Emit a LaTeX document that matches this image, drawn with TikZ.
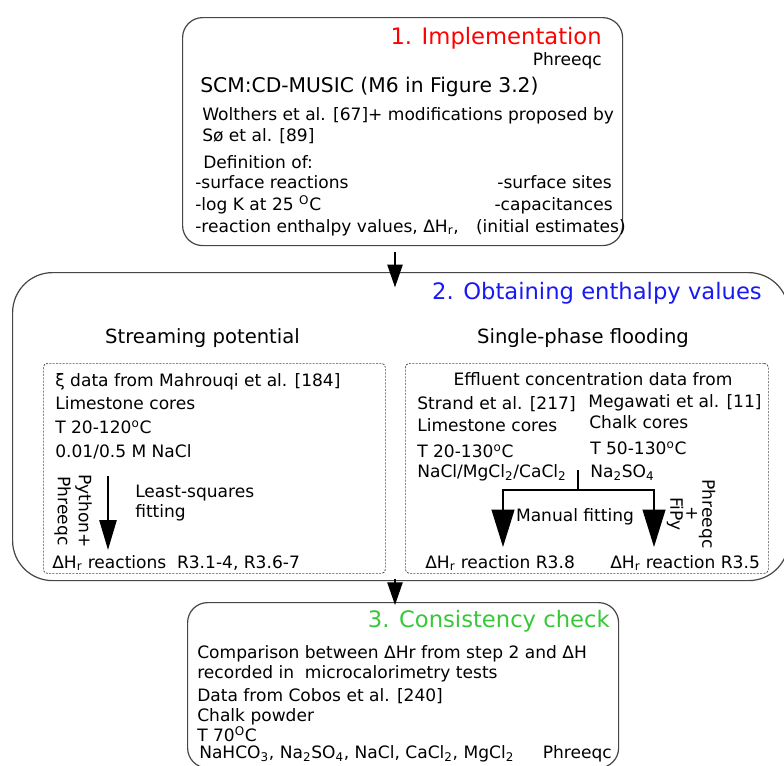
\documentclass[tikz,border=0pt]{standalone}
\usepackage{fontspec}
\setmainfont{DejaVu Sans}
\usepackage{tikz}
\usetikzlibrary{arrows.meta}
\definecolor{stepred}{RGB}{255,0,0}
\definecolor{stepblue}{RGB}{25,25,245}
\definecolor{stepgreen}{RGB}{55,200,55}
\definecolor{framegray}{RGB}{70,70,70}
\newcommand{\bodyfont}{\fontsize{12.8}{15.75}\selectfont}
\newcommand{\titlefont}{\fontsize{17}{20}\selectfont}
\newcommand{\headfont}{\fontsize{14.7}{18}\selectfont}
\newcommand{\dHr}{ΔH\textsubscript{r}}

\begin{document}
\begin{tikzpicture}[x=0.75pt,y=-0.75pt,
  frame/.style={draw=framegray, line width=0.9pt, anchor=north west, inner sep=0pt},
  subframe/.style={draw=framegray, line width=0.55pt, dash pattern=on 1.5pt off 1pt,
    rounded corners=3pt, anchor=north west, inner sep=0pt},
  txt/.style={font=\bodyfont, inner sep=0pt, anchor=base west},
  txtr/.style={txt, anchor=base east},
  title/.style={font=\titlefont, inner sep=0pt, anchor=base east},
  linkarrow/.style={-{Triangle[length=17pt,width=11.5pt]}, line width=0.9pt},
  fitarrow/.style={-{Triangle[length=22.5pt,width=12.75pt]}, line width=2pt},
  treeline/.style={line width=1.5pt},
  treearrow/.style={treeline, -{Triangle[length=28pt,width=17pt]}}]
\useasboundingbox (0,0) rectangle (784,765);
\clip (0,0) rectangle (784,765);

% Frames of the three steps
\node[frame, rounded corners=15pt, minimum width=330pt, minimum height=171pt] (impl) at (182,17) {};
\node[frame, rounded corners=30pt, minimum width=582pt, minimum height=231pt] (obtain) at (12,272) {};
\node[frame, rounded corners=15pt, minimum width=323.25pt, minimum height=124pt] (check) at (187,602) {};
\node[subframe, minimum width=256.5pt, minimum height=157.5pt] (spbox) at (43,363) {};
\node[subframe, minimum width=272.25pt, minimum height=157.5pt] (flbox) at (405,363) {};

% Arrows between the steps
\coordinate (axis) at (395,0);
\draw[linkarrow, shorten <=4.5pt, shorten >=-11.5pt] (impl.south -| axis) -- (obtain.north -| axis);
\draw[linkarrow, shorten <=-1.5pt, shorten >=-2.25pt] (obtain.south -| axis) -- (check.north -| axis);

% Step 1
\node[title, stepred] (title1) at (602,44) {1. Implementation};
\node[txtr] (phimpl) at (602,65) {Phreeqc};
\node[txt, font=\fontsize{15.2}{18}\selectfont] (scm) at (200,92) {SCM:CD-MUSIC (M6 in Figure 3.2)};
\node[txt] (wolthers) at (202,120) {Wolthers et al. [67]+ modifications proposed by};
\node[txt] (soetal) at (202,141) {Sø et al. [89]};
\node[txt] (defn) at (203,168) {Definition of:};
\node[txt] (surfr) at (195,188) {-surface reactions};
\node[txtr] (surfs) at (612,188) {-surface sites};
\node[txt] (logk) at (195,210) {-log K at 25 \textsuperscript{O}C};
\node[txtr] (capac) at (613,210) {-capacitances};
\node[txt] (enth) at (195,232) {-reaction enthalpy values, \dHr,};
\node[txtr] (initest) at (626,232) {(initial estimates)};

% Step 2
\node[title, stepblue] (title2) at (762,299) {2. Obtaining enthalpy values};
\node[txt, font=\headfont, anchor=base] (streaming) at (202.5,343) {Streaming potential};
\node[txt, font=\headfont, anchor=base] (flooding) at (583,343) {Single-phase flooding};
% streaming potential data
\node[txt] (xidata) at (55,386) {ξ data from Mahrouqi et al. [184]};
\node[txt] (limesp) at (55,409) {Limestone cores};
\node[txt] (tempsp) at (55,433) {T 20-120\textsuperscript{o}C};
\node[txt] (naclsp) at (55,457) {0.01/0.5 M NaCl};
\node[txt] (lsq) at (135,497) {Least-squares};
\node[txt] (lsqfit) at (135,517) {fitting};
\node[font=\bodyfont, inner sep=0pt, rotate=-90, align=center] (toolsl) at (73,511) {Python+\\Phreeqc};
\node[txt] (dhsp) at (52,568) {\dHr{} reactions\hspace{8pt}R3.1-4, R3.6-7};
\coordinate (lsqtop) at (108,476);
\coordinate (lsqend) at (108,550);
\draw[fitarrow] (lsqtop) -- (lsqend);
% flooding data
\node[txt, anchor=base] (effluent) at (593,385) {Effluent concentration data from};
\node[txt] (strand) at (417,409) {Strand et al. [217]};
\node[txt] (megawati) at (588,407) {Megawati et al. [11]};
\node[txt] (limefl) at (417,431) {Limestone cores};
\node[txt] (chalkfl) at (589,428) {Chalk cores};
\node[txt] (tempst) at (417,457) {T 20-130\textsuperscript{o}C};
\node[txt] (tempmg) at (590,454) {T 50-130\textsuperscript{o}C};
\node[txt] (saltst) at (417,477) {NaCl/MgCl\textsubscript{2}/CaCl\textsubscript{2}};
\node[txt] (saltmg) at (590,477) {Na\textsubscript{2}SO\textsubscript{4}};
\node[txt, anchor=base] (manual) at (575,521) {Manual fitting};
\node[font={\fontsize{12.8}{12}\selectfont}, inner sep=0pt, rotate=-90, align=center] (toolsr) at (691,514) {Phreeqc\\+\\FiPy};
\node[txt] (dhst) at (425,568) {\dHr{} reaction R3.8};
\node[txt] (dhmg) at (610,568) {\dHr{} reaction R3.5};
\coordinate (fork) at (578,470);
\coordinate (leftend) at (503,547);
\coordinate (rightend) at (654,547);
\draw[treeline] (fork) -- ++(0,20) coordinate (split);
\draw[treearrow] (split) -| (leftend);
\draw[treearrow] (split) -| (rightend);

% Step 3
\node[title, stepgreen] (title3) at (610,627) {3. Consistency check};
\foreach \y/\t [count=\i] in {658/{Comparison between ΔHr from step 2 and ΔH},
    678/{recorded in \ microcalorimetry tests}, 701/{Data from Cobos et al. [240]},
    721/{Chalk powder}, 741/{T 70\textsuperscript{O}C}} {
  \node[txt] (cc\i) at (197,\y) {\t};
}
\node[txt] (ions) at (199,758) {NaHCO\textsubscript{3}, Na\textsubscript{2}SO\textsubscript{4}, NaCl, CaCl\textsubscript{2}, MgCl\textsubscript{2}};
\node[txtr] (phcheck) at (612,758) {Phreeqc};
\end{tikzpicture}
\end{document}
